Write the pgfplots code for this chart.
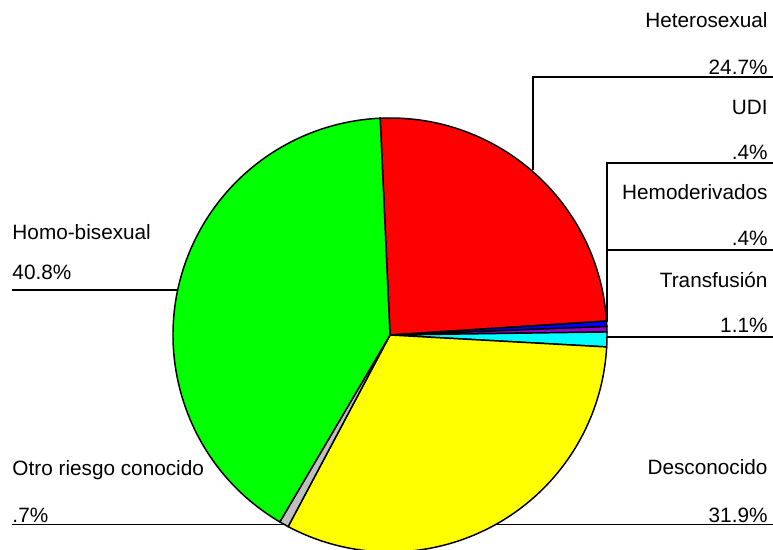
\documentclass[border=0pt]{standalone}
\usepackage{pgfplots}
\pgfplotsset{compat=1.18}
\usepackage{fontspec}
\setmainfont{Liberation Sans}
\definecolor{cy}{rgb}{0,1,1}
\definecolor{gr}{rgb}{0,1,0}
\definecolor{ye}{rgb}{1,1,0}
\definecolor{rd}{rgb}{1,0,0}
\definecolor{bl}{rgb}{0,0,1}
\definecolor{pu}{rgb}{0.6,0,0.8}
\begin{document}
\begin{tikzpicture}
\pgfmathsetmacro{\R}{217*11/773}
\begin{axis}[width=11cm,height=7.8266cm,scale only axis,hide axis,
  xmin=0,xmax=773,ymin=0,ymax=550,clip=false]
\draw (axis cs:12,25) -- (axis cs:773,25);
\tikzset{sl/.style={draw=black,line width=0.6pt}}
\filldraw[sl,fill=rd] (axis cs:390,215) -- ++(92.6:\R cm) arc[start angle=92.6,end angle=3.68,radius=\R cm] -- cycle;
\filldraw[sl,fill=bl] (axis cs:390,215) -- ++(3.68:\R cm) arc[start angle=3.68,end angle=2.24,radius=\R cm] -- cycle;
\filldraw[sl,fill=pu] (axis cs:390,215) -- ++(2.24:\R cm) arc[start angle=2.24,end angle=0.8,radius=\R cm] -- cycle;
\filldraw[sl,fill=cy] (axis cs:390,215) -- ++(0.8:\R cm) arc[start angle=0.8,end angle=-3.16,radius=\R cm] -- cycle;
\filldraw[sl,fill=ye] (axis cs:390,215) -- ++(-3.16:\R cm) arc[start angle=-3.16,end angle=-118.0,radius=\R cm] -- cycle;
\filldraw[sl,fill=lightgray] (axis cs:390,215) -- ++(-118.0:\R cm) arc[start angle=-118.0,end angle=-120.52,radius=\R cm] -- cycle;
\filldraw[sl,fill=gr] (axis cs:390,215) -- ++(-120.52:\R cm) arc[start angle=-120.52,end angle=-267.4,radius=\R cm] -- cycle;
\draw[line width=0.5pt] (axis cs:533,380) -- (axis cs:533,473) -- (axis cs:773,473);
\draw[line width=0.5pt] (axis cs:607,228) -- (axis cs:607,387) -- (axis cs:773,387);
\draw[line width=0.5pt] (axis cs:607,300) -- (axis cs:773,300);
\draw[line width=0.5pt] (axis cs:607,213) -- (axis cs:773,213);
\draw[line width=0.5pt] (axis cs:12,260) -- (axis cs:178,260);
\tikzset{lab/.style={font=\fontsize{8.4}{10}\selectfont,inner sep=0pt}}
\node[lab,anchor=east] at (axis cs:768,530) {Heterosexual};
\node[lab,anchor=east] at (axis cs:768,483) {24.7\%};
\node[lab,anchor=east] at (axis cs:768,443) {UDI};
\node[lab,anchor=east] at (axis cs:768,398) {.4\%};
\node[lab,anchor=east] at (axis cs:768,358) {Hemoderivados};
\node[lab,anchor=east] at (axis cs:768,312) {.4\%};
\node[lab,anchor=east] at (axis cs:768,270) {Transfusión};
\node[lab,anchor=east] at (axis cs:768,225) {1.1\%};
\node[lab,anchor=east] at (axis cs:768,83) {Desconocido};
\node[lab,anchor=east] at (axis cs:768,35) {31.9\%};
\node[lab,anchor=west] at (axis cs:12,318) {Homo-bisexual};
\node[lab,anchor=west] at (axis cs:12,278) {40.8\%};
\node[lab,anchor=west] at (axis cs:12,80) {Otro riesgo conocido};
\node[lab,anchor=west] at (axis cs:12,35) {.7\%};
\end{axis}
\pgfresetboundingbox
\path[use as bounding box] (current axis.south west) rectangle (current axis.north east);
\end{tikzpicture}
\end{document}
